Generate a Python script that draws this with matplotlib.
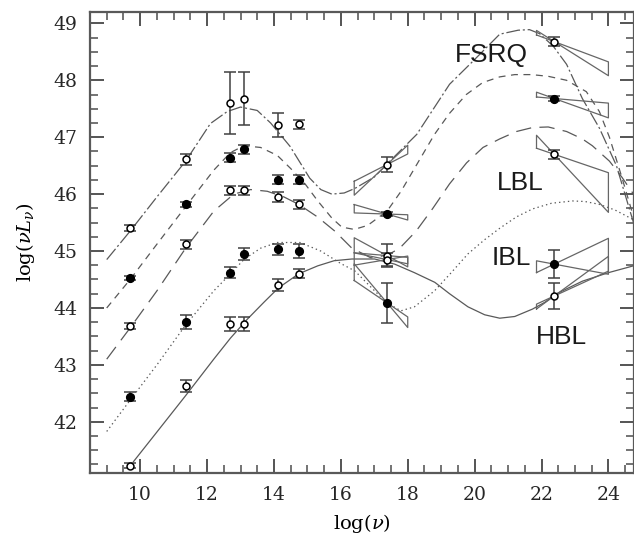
import numpy as np
import matplotlib
matplotlib.use('Agg')
import matplotlib.pyplot as plt
from matplotlib.ticker import MultipleLocator

plt.rcParams['mathtext.fontset'] = 'dejavuserif'
plt.rcParams['lines.scale_dashes'] = False

# observing bands (log nu): 5 GHz, 230 GHz, 60um, 25um, K, V, 1 keV, 100 MeV
nu = [9.7, 11.36, 12.7, 13.1, 14.13, 14.74, 17.38, 22.38]

# average SEDs, 5 radio luminosity bins (top -> bottom)
L1 = [45.40, 46.61, 47.60, 47.68, 47.21, 47.23, 46.52, 48.68]
L2 = [44.53, 45.82, 46.64, 46.79, 46.25, 46.25, 45.65, 47.68]
L3 = [43.68, 45.12, 46.07, 46.07, 45.95, 45.82, 44.92, 46.70]
L4 = [42.44, 43.75, 44.62, 44.95, 45.03, 45.00, 44.09, 44.77]
L5 = [41.23, 42.63, 43.72, 43.72, 44.40, 44.60, 44.85, 44.21]
E1 = [0.05, 0.10, 0.55, 0.46, 0.21, 0.08, 0.13, 0.08]
E2 = [0.04, 0.05, 0.08, 0.08, 0.08, 0.08, 0.04, 0.05]
E3 = [0.05, 0.08, 0.08, 0.08, 0.08, 0.08, 0.20, 0.08]
E4 = [0.08, 0.12, 0.10, 0.10, 0.10, 0.12, 0.35, 0.25]
E5 = [0.05, 0.10, 0.12, 0.12, 0.10, 0.08, 0.12, 0.22]
filled = [False, True, False, True, False]

# spectral slopes (in nuL_nu) for the X-ray and gamma-ray bow ties
xray_band = [16.4, 18.0]
gam_band = [21.85, 24.0]
xs_a = [0.30, -0.17, -0.05, -0.40, 0.10]
xs_b = [0.55, -0.02, -0.32, -0.70, -0.12]
gs_a = [-0.22, -0.05, -0.20, 0.28, 0.43]
gs_b = [-0.37, -0.21, -0.63, -0.11, 0.27]

# model curves
c1x = [9.0, 9.7, 10.5, 11.36, 12.1, 12.6, 13.0, 13.5, 13.9, 14.48, 15.07, 15.4, 15.73, 16.1, 16.42, 17.0, 17.5,
       18.27, 19.25, 19.94, 20.75, 21.3, 21.64, 21.94, 22.35, 22.75, 23.22, 23.73, 24.24, 24.75]
c1y = [44.85, 45.35, 45.95, 46.58, 47.24, 47.45, 47.53, 47.47, 47.25, 46.84, 46.28, 46.08, 46.0, 46.02, 46.1, 46.3,
       46.6, 47.05, 47.93, 48.33, 48.81, 48.88, 48.89, 48.82, 48.6, 48.28, 47.68, 47.16, 46.5, 45.5]
c2x = [9.0, 9.7, 10.5, 11.36, 12.2, 12.7, 13.1, 13.6, 14.1, 14.5, 14.93, 15.31, 15.73, 16.03, 16.4, 16.8, 17.38,
       17.8, 18.3, 18.8, 19.25, 19.75, 20.24, 20.75, 21.2, 21.7, 22.2, 22.75, 23.34, 23.73, 24.03, 24.4, 24.75]
c2y = [44.0, 44.5, 45.12, 45.78, 46.42, 46.73, 46.85, 46.82, 46.68, 46.45, 46.18, 45.88, 45.58, 45.42, 45.38, 45.45,
       45.7, 46.05, 46.55, 47.05, 47.42, 47.75, 47.96, 48.06, 48.1, 48.1, 48.07, 48.0, 47.8, 47.45, 47.0, 46.3, 45.6]
c3x = [9.0, 9.7, 10.5, 11.36, 12.2, 12.8, 13.3, 13.8, 14.3, 14.74, 15.3, 15.82, 16.33, 16.9, 17.4, 17.76, 18.25,
       18.75, 19.25, 19.76, 20.25, 20.75, 21.25, 21.73, 22.2, 22.75, 23.22, 23.52, 24.03, 24.4, 24.75]
c3y = [43.1, 43.65, 44.3, 45.05, 45.7, 46.0, 46.08, 46.05, 45.95, 45.82, 45.6, 45.35, 45.05, 44.88, 44.93, 45.05,
       45.35, 45.75, 46.18, 46.55, 46.82, 46.97, 47.1, 47.17, 47.18, 47.1, 46.97, 46.85, 46.58, 46.3, 46.0]
c4x = [9.0, 9.7, 10.5, 11.36, 12.2, 12.7, 13.1, 13.6, 14.1, 14.78, 15.4, 16.0, 16.42, 17.01, 17.4, 17.8, 18.2,
       18.8, 19.3, 19.8, 20.3, 20.75, 21.25, 21.73, 22.3, 22.93, 23.3, 23.73, 24.2, 24.75]
c4y = [41.83, 42.38, 43.0, 43.7, 44.3, 44.6, 44.85, 45.05, 45.15, 45.15, 45.0, 44.78, 44.65, 44.3, 44.08, 43.95,
       44.02, 44.3, 44.62, 44.95, 45.2, 45.4, 45.6, 45.74, 45.84, 45.88, 45.87, 45.82, 45.72, 45.55]
c5x = [9.8, 10.5, 11.36, 12.2, 12.7, 13.2, 13.7, 14.13, 14.74, 15.31, 15.8, 16.33, 17.01, 17.61, 18.2, 18.81, 19.25,
       19.8, 20.3, 20.75, 21.2, 21.73, 22.1, 22.45, 23.22, 24.0, 24.75]
c5y = [41.3, 41.82, 42.46, 43.1, 43.47, 43.8, 44.1, 44.35, 44.6, 44.74, 44.83, 44.86, 44.86, 44.77, 44.62, 44.45,
       44.25, 44.02, 43.88, 43.82, 43.85, 43.98, 44.1, 44.25, 44.47, 44.62, 44.74]

labels = ['FSRQ', 'LBL', 'IBL', 'HBL']
label_x = [20.5, 21.37, 21.1, 22.6]
label_y = [48.45, 46.2, 44.88, 43.49]

fig = plt.figure(figsize=(6.34, 5.39), dpi=100)
ax = fig.add_axes([90/634, 66/539, 543.5/634, 461/539])

curve_x = [c1x, c2x, c3x, c4x, c5x]
curve_y = [c1y, c2y, c3y, c4y, c5y]
styles = [(0, (10, 2, 1.5, 2)), (0, (5, 4)), (0, (11, 6)), (0, (1, 2.2)), '-']
lc = '0.35'
for cx, cy, ls in zip(curve_x, curve_y, styles):
    ax.plot(cx, cy, color=lc, lw=0.9, linestyle=ls)

# bow ties through the X-ray and gamma-ray points
nu_x = nu[6]; nu_g = nu[7]
allL = [L1, L2, L3, L4, L5]
for i, L in enumerate(allL):
    for band, piv, y0, sa, sb in [(xray_band, nu_x, L[6], xs_a[i], xs_b[i]), (gam_band, nu_g, L[7], gs_a[i], gs_b[i])]:
        a, b = band
        px = [a, b, b, a, a]
        py = [y0 + sa*(a-piv), y0 + sa*(b-piv), y0 + sb*(b-piv), y0 + sb*(a-piv), y0 + sa*(a-piv)]
        ax.plot(px, py, color='0.4', lw=0.9)

allE = [E1, E2, E3, E4, E5]
for L, E, f in zip(allL, allE, filled):
    ax.errorbar(nu, L, yerr=E, fmt='o', ms=5.5 if f else 5, mfc='black' if f else 'white',
                mec='black', mew=1.1, ecolor='0.25', elinewidth=1.1, capsize=4.5, capthick=1.1, zorder=5)

for t, x, y in zip(labels, label_x, label_y):
    ax.text(x, y, t, fontsize=19, family='Liberation Sans', ha='center', va='center', color='0.1')

ax.set_xlim(8.5, 24.75)
ax.set_ylim(41.1, 49.2)
ax.xaxis.set_major_locator(MultipleLocator(2))
ax.xaxis.set_minor_locator(MultipleLocator(0.5))
ax.yaxis.set_major_locator(MultipleLocator(1))
ax.yaxis.set_minor_locator(MultipleLocator(0.25))
ax.tick_params(which='both', direction='in', top=True, right=True, color='0.3', width=1.1)
ax.tick_params(which='major', length=10)
ax.tick_params(which='minor', length=5.5)
ax.tick_params(labelsize=13.5, pad=9, colors='0.15')
for lab in ax.get_xticklabels() + ax.get_yticklabels():
    lab.set_family('DejaVu Serif')
for sp in ax.spines.values():
    sp.set_linewidth(1.6)
    sp.set_color('0.35')
ax.set_xlabel(r'$\log(\nu)$', fontsize=14, labelpad=6)
ax.set_ylabel(r'$\log(\nu L_\nu)$', fontsize=14, labelpad=12)

fig.savefig('out.png', dpi=100)
